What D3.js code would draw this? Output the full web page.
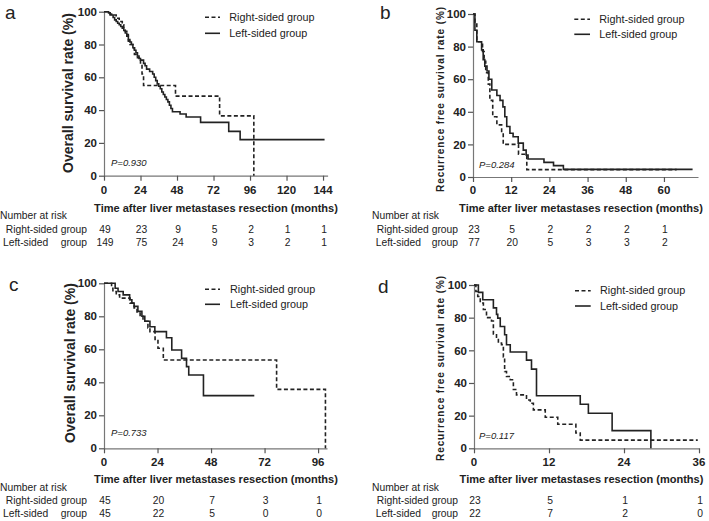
<!DOCTYPE html>
<html><head><meta charset="utf-8">
<script src="https://cdn.jsdelivr.net/npm/d3@7"></script>
<style>
body{margin:0;background:#fff}
svg{display:block}
text{font-family:"Liberation Sans",Arial,sans-serif;fill:#222}
</style>
</head><body><svg id="chart" width="709" height="521"></svg>
<script>
// ---------- DATA ----------
const yTicks = [0, 20, 40, 60, 80, 100];
const groupNames = ["Right-sided group", "Left-sided group"];

// Panel a: overall survival
const aTicks = [0, 24, 48, 72, 96, 120, 144];
const aRightT = [0,4,8,10,12,13,14,15,16,17,19,20,22,24,25,26,47,76,98.5];
const aRightS = [100,98,96,94,92,90,88,86,82,80,78,74,72,68,62,55,48.5,36.5,0];
const aLeftT = [0,3,4,5,6,7,8,9,10,11,12,13,14,15,16,17,18,19,20,21,22,23,24,26,27,28,30,32,33,34,35,36,37,38,39,40,41,42,43,44,45,50,54,63.5,82,89.5,145];
const aLeftS = [100,99.3,98.6,98,96.5,95,94,93,92,91,90,88.5,87,85,83,81.5,80,78,76.5,75,73,71.5,70.5,68.5,67,65,63.5,62,60,58,56,54.5,53,51,49.5,48,46.5,45,43,41,39,37.6,35.8,32.5,27,22,22];
const aRiskRight = [49, 23, 9, 5, 2, 1, 1];
const aRiskLeft = [149, 75, 24, 9, 3, 2, 1];
const aP = "P=0.930";

// Panel b: recurrence free survival
const bTicks = [0, 12, 24, 36, 48, 60];
const bRightT = [0,0.6,1.2,3,3.5,4,4.8,5.3,6.2,7.5,9,9.5,14.3,16.9,64];
const bRightS = [100,95,83,77,71,64,57,47,37,32,27,20,14,4.5,4.5];
const bLeftT = [0,0.6,1.2,2.7,3.2,3.7,4.4,5,5.9,7.5,8.5,9.4,10,10.6,11.6,12.6,14.2,15.8,16.7,17.3,22.3,25.3,28.4,69];
const bLeftS = [100,90,83,78,72,68,65,60,53.4,50,47,43,37,31,26.8,24.7,20.8,16.5,13.5,11,9,7,4.7,4.7];
const bRiskRight = [23, 5, 2, 2, 2, 1];
const bRiskLeft = [77, 20, 5, 3, 3, 2];
const bP = "P=0.284";

// Panel c: overall survival
const cTicks = [0, 24, 48, 72, 96];
const cRightT = [0,3.4,4,5.5,7,11.7,13.5,14.8,16.2,17.5,19.7,20.6,22.9,24.2,26.6,77.4,99.3];
const cRightS = [100,97,95,93,91,88,85,82,80,77,73,70.7,66,60.6,53.5,35.7,0];
const cLeftT = [0,5,6.3,8.6,11.5,12.5,13.5,15.2,17,18.3,20.6,22.8,28,30.4,34.8,37,38,44.6,67.4];
const cLeftS = [100,97,95,93,90,88,86,83,80,77,73.7,70.7,67,59.6,54.5,49.5,44.4,31.9,31.9];
const cRiskRight = [45, 20, 7, 3, 1];
const cRiskLeft = [45, 22, 5, 0, 0];
const cP = "P=0.733";

// Panel d: recurrence free survival
const dTicks = [0, 12, 24, 36];
const dRightT = [0,0.3,0.6,1,1.5,2,2.8,3.1,3.6,3.9,4.4,4.7,4.9,5.2,5.8,6.3,6.8,8.4,9,9.5,11.4,13.4,16.3,17,35.8];
const dRightS = [100,96,93,89,85,80,78,70,68,64.5,63.5,56,47,44,42,36,32.7,29.6,27.6,23.5,19,14.7,9.4,5,5];
const dLeftT = [0,0.7,1.4,3.1,3.6,3.8,4.2,4.9,5.2,5.8,8.4,9.2,10,17,18.3,22.1,28.3];
const dLeftS = [100,95.5,91,86,82,79.7,74.6,69.5,63.4,59,54,48.5,32.2,27,21.5,10.8,0];
const dRiskRight = [23, 5, 1, 1];
const dRiskLeft = [22, 7, 2, 0];
const dP = "P=0.117";

const xTitle = "Time after liver metastases resection (months)";
const osLabel = "Overall survival rate (%)";
const rfsLabel = "Recurrence free survival rate (%)";

// ---------- LAYOUT ----------
const svg = d3.select("#chart");
const ink = "#222", axisCol = "#777";

function fit(sel, target) {
  const n = sel.node();
  const len = n.getComputedTextLength();
  const fs = parseFloat(sel.attr("font-size"));
  if (len > 0) sel.attr("font-size", (fs * target / len).toFixed(2));
}

const panels = [
  {id:"a", ticks:aTicks, rT:aRightT, rS:aRightS, lT:aLeftT, lS:aLeftS, rR:aRiskRight, lR:aRiskLeft, p:aP, yl:osLabel, rfs:false,
   x0:104, x1:327.6, xMax:147, yTop:11.7, yBot:175.7, lab:[5,19], ylx:68, yly:93,
   tickB:194, titleB:212, titleX:216, riskX:0, riskB:219, rowB:[232.5,245.5], rowX:3, rowEnd:87,
   leg:[205,220,17.3,33.3,229.3], pxy:[111,165.5]},
  {id:"b", ticks:bTicks, rT:bRightT, rS:bRightS, lT:bLeftT, lS:bLeftS, rR:bRiskRight, lR:bRiskLeft, p:bP, yl:rfsLabel, rfs:true,
   x0:473, x1:698, xMax:70.7, yTop:14, yBot:177, lab:[380,19], ylx:440, yly:99,
   tickB:194, titleB:212, titleX:581, riskX:372, riskB:219, rowB:[232.5,245.5], rowX:375.7, rowEnd:458,
   leg:[574.3,590,19.3,34.3,599.3], pxy:[479,167.5]},
  {id:"c", ticks:cTicks, rT:cRightT, rS:cRightS, lT:cLeftT, lS:cLeftS, rR:cRiskRight, lR:cRiskLeft, p:cP, yl:osLabel, rfs:false,
   x0:104, x1:327, xMax:100, yTop:283.3, yBot:448.3, lab:[9,291], ylx:70, yly:363,
   tickB:466, titleB:483, titleX:216, riskX:0, riskB:491, rowB:[504,517], rowX:3, rowEnd:87,
   leg:[205,220,289.3,304.3,230], pxy:[111,436]},
  {id:"d", ticks:dTicks, rT:dRightT, rS:dRightS, lT:dLeftT, lS:dLeftS, rR:dRiskRight, lR:dRiskLeft, p:dP, yl:rfsLabel, rfs:true,
   x0:474, x1:699, xMax:36, yTop:285, yBot:448.3, lab:[378,293], ylx:440, yly:368,
   tickB:466, titleB:483, titleX:581.5, riskX:372, riskB:491, rowB:[504,517], rowX:375.7, rowEnd:458,
   leg:[575,590.7,290.7,306,600], pxy:[479,439]}
];

panels.forEach(P => {
  const g = svg.append("g");
  const x = d3.scaleLinear().domain([0, P.xMax]).range([P.x0, P.x1]);
  const y = d3.scaleLinear().domain([0, 100]).range([P.yBot, P.yTop]);

  // axes
  const yAx = g.append("g").attr("transform", `translate(${P.x0},0)`)
    .call(d3.axisLeft(y).tickValues(yTicks).tickSize(5).tickPadding(2).tickSizeOuter(0));
  const xAx = g.append("g").attr("transform", `translate(0,${P.yBot})`)
    .call(d3.axisBottom(x).tickValues(P.ticks).tickSize(5).tickSizeOuter(0).tickFormat(() => ""));
  [yAx, xAx].forEach(a => {
    a.select(".domain").attr("stroke", axisCol).attr("stroke-width", 1.2);
    a.selectAll(".tick line").attr("stroke", "#555").attr("stroke-width", 1.2);
  });
  yAx.selectAll(".tick text").attr("font-size", 11.5).attr("font-weight", "bold").attr("fill", ink)
     .attr("font-family", "Liberation Sans, Arial, sans-serif");
  g.selectAll(".xtl").data(P.ticks).join("text")
    .attr("x", d => x(d)).attr("y", P.tickB).attr("text-anchor", "middle")
    .attr("font-size", 11.5).attr("font-weight", "bold").text(d => d);

  // x title
  const xt = g.append("text").attr("x", P.titleX).attr("y", P.titleB).attr("text-anchor", "middle")
    .attr("font-size", 11).attr("font-weight", "bold").text(xTitle);
  fit(xt, 244);

  // y title
  const yt = g.append("text").attr("transform", `translate(${P.ylx},${P.yly}) rotate(-90)`)
    .attr("text-anchor", "middle").attr("dominant-baseline", "central");
  if (P.rfs) {
    yt.attr("font-size", 10).attr("letter-spacing", 0.9).attr("font-weight", "bold").attr("fill", "#333").text(P.yl);
    fit(yt, 186);
  } else {
    yt.attr("font-size", 12).attr("font-weight", "bold").text(P.yl);
    fit(yt, 160);
  }

  // panel letter
  g.append("text").attr("x", P.lab[0]).attr("y", P.lab[1]).attr("font-size", 19).text(P.id);

  // curves
  const line = d3.line().x(d => x(d[0])).y(d => y(d[1])).curve(d3.curveStepAfter);
  const right = P.rT.map((t, i) => [t, P.rS[i]]);
  const left = P.lT.map((t, i) => [t, P.lS[i]]);
  g.append("path").datum(left).attr("d", line).attr("fill", "none")
    .attr("stroke", ink).attr("stroke-width", 1.6);
  g.append("path").datum(right).attr("d", line).attr("fill", "none")
    .attr("stroke", ink).attr("stroke-width", 1.6).attr("stroke-dasharray", "4,2.5");

  // legend
  const L = P.leg;
  g.append("line").attr("x1", L[0]).attr("x2", L[1]).attr("y1", L[2]).attr("y2", L[2])
    .attr("stroke", ink).attr("stroke-width", 1.6).attr("stroke-dasharray", "4,2.5");
  g.append("line").attr("x1", L[0]).attr("x2", L[1]).attr("y1", L[3]).attr("y2", L[3])
    .attr("stroke", ink).attr("stroke-width", 1.6);
  g.append("text").attr("x", L[4]).attr("y", L[2]).attr("dy", "0.35em").attr("font-size", 10.8).attr("fill", "#333").text(groupNames[0]);
  g.append("text").attr("x", L[4]).attr("y", L[3]).attr("dy", "0.35em").attr("font-size", 10.8).attr("fill", "#333").text(groupNames[1]);

  // P value
  g.append("text").attr("x", P.pxy[0]).attr("y", P.pxy[1]).attr("font-size", 9.5)
    .attr("font-style", "italic").attr("fill", "#444").text(P.p);

  // number at risk
  g.append("text").attr("x", P.riskX).attr("y", P.riskB).attr("font-size", 10.3).attr("fill", "#333").text("Number at risk");
  g.append("text").attr("x", P.rowEnd).attr("y", P.rowB[0]).attr("text-anchor", "end").attr("font-size", 10.3).attr("fill", "#333").text(groupNames[0]);
  g.append("text").attr("x", P.rowX).attr("y", P.rowB[1]).attr("font-size", 10.3).attr("fill", "#333").text("Left-sided");
  g.append("text").attr("x", P.rowEnd).attr("y", P.rowB[1]).attr("text-anchor", "end").attr("font-size", 10.3).attr("fill", "#333").text("group");
  [P.rR, P.lR].forEach((arr, k) => {
    g.selectAll(".risk" + k).data(arr).join("text")
      .attr("x", (d, i) => x(P.ticks[i]) + 1).attr("y", P.rowB[k]).attr("text-anchor", "middle")
      .attr("font-size", 10.3).attr("fill", "#333").text(d => d);
  });
});
</script></body></html>
